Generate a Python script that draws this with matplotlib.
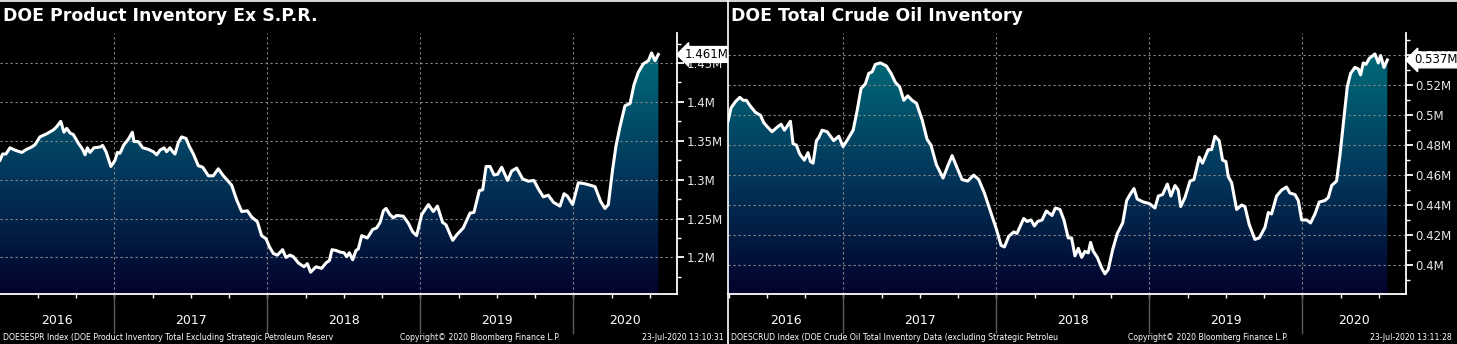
import numpy as np
import matplotlib
matplotlib.use("Agg")
import matplotlib.pyplot as plt
from matplotlib.colors import LinearSegmentedColormap
from matplotlib.patches import Polygon
from matplotlib.transforms import blended_transform_factory
from matplotlib.ticker import FuncFormatter, MultipleLocator

# DOE product inventory ex SPR (millions of barrels), time in decimal years
t_prod = [2016.253, 2016.270, 2016.292, 2016.318, 2016.351, 2016.395, 2016.427, 2016.460,
          2016.482, 2016.514, 2016.558, 2016.602, 2016.623, 2016.650, 2016.671, 2016.689,
          2016.711, 2016.732, 2016.765, 2016.793, 2016.809, 2016.824, 2016.841, 2016.867,
          2016.907, 2016.924, 2016.946, 2016.978, 2017.005, 2017.020, 2017.037, 2017.063,
          2017.092, 2017.118, 2017.129, 2017.157, 2017.186, 2017.222, 2017.255, 2017.277,
          2017.299, 2017.325, 2017.342, 2017.364, 2017.382, 2017.397, 2017.419, 2017.440,
          2017.469, 2017.490, 2017.517, 2017.549, 2017.578, 2017.615, 2017.647, 2017.680,
          2017.713, 2017.767, 2017.800, 2017.833, 2017.870, 2017.898, 2017.935, 2017.963,
          2017.992, 2018.013, 2018.040, 2018.066, 2018.100, 2018.122, 2018.148, 2018.170,
          2018.203, 2018.240, 2018.262, 2018.283, 2018.318, 2018.355, 2018.384, 2018.406,
          2018.423, 2018.449, 2018.475, 2018.502, 2018.519, 2018.536, 2018.558, 2018.580,
          2018.595, 2018.617, 2018.654, 2018.689, 2018.715, 2018.737, 2018.759, 2018.776,
          2018.802, 2018.824, 2018.846, 2018.889, 2018.922, 2018.950, 2018.976, 2019.009,
          2019.053, 2019.085, 2019.112, 2019.146, 2019.168, 2019.212, 2019.238, 2019.281,
          2019.325, 2019.351, 2019.386, 2019.408, 2019.430, 2019.456, 2019.482, 2019.506,
          2019.532, 2019.571, 2019.597, 2019.630, 2019.669, 2019.706, 2019.743, 2019.772,
          2019.804, 2019.837, 2019.870, 2019.913, 2019.940, 2019.961, 2019.996, 2020.033,
          2020.070, 2020.109, 2020.142, 2020.179, 2020.207, 2020.229, 2020.257, 2020.279,
          2020.305, 2020.338, 2020.371, 2020.397, 2020.425, 2020.458, 2020.491, 2020.512,
          2020.534, 2020.556]
prod = [1.325, 1.333, 1.333, 1.341, 1.338, 1.335, 1.339, 1.342,
        1.345, 1.355, 1.359, 1.364, 1.368, 1.375, 1.361, 1.366,
        1.360, 1.358, 1.347, 1.339, 1.332, 1.341, 1.335, 1.341,
        1.342, 1.344, 1.336, 1.317, 1.325, 1.335, 1.334, 1.345,
        1.352, 1.361, 1.349, 1.349, 1.341, 1.339, 1.336, 1.332,
        1.338, 1.341, 1.336, 1.341, 1.336, 1.333, 1.348, 1.355,
        1.353, 1.343, 1.333, 1.318, 1.316, 1.305, 1.305, 1.314,
        1.305, 1.293, 1.274, 1.259, 1.260, 1.252, 1.246, 1.228,
        1.224, 1.214, 1.205, 1.203, 1.210, 1.200, 1.203, 1.201,
        1.193, 1.188, 1.192, 1.181, 1.188, 1.186, 1.193, 1.196,
        1.210, 1.209, 1.207, 1.206, 1.201, 1.206, 1.197, 1.209,
        1.211, 1.228, 1.225, 1.236, 1.238, 1.245, 1.260, 1.263,
        1.255, 1.251, 1.254, 1.253, 1.244, 1.233, 1.228, 1.255,
        1.268, 1.259, 1.266, 1.245, 1.242, 1.222, 1.229, 1.238,
        1.257, 1.258, 1.286, 1.287, 1.317, 1.317, 1.306, 1.307,
        1.316, 1.299, 1.311, 1.315, 1.301, 1.298, 1.299, 1.288,
        1.278, 1.280, 1.271, 1.266, 1.282, 1.279, 1.268, 1.296,
        1.295, 1.293, 1.291, 1.272, 1.263, 1.268, 1.313, 1.343,
        1.368, 1.395, 1.398, 1.422, 1.438, 1.449, 1.453, 1.463,
        1.453, 1.461]

# DOE total crude oil inventory ex SPR (millions of barrels)
t_crude = [2016.240, 2016.251, 2016.266, 2016.294, 2016.323, 2016.345, 2016.366, 2016.393,
           2016.425, 2016.458, 2016.480, 2016.506, 2016.534, 2016.567, 2016.593, 2016.615,
           2016.654, 2016.671, 2016.693, 2016.715, 2016.745, 2016.769, 2016.785, 2016.802,
           2016.824, 2016.839, 2016.861, 2016.894, 2016.937, 2016.970, 2016.998, 2017.029,
           2017.064, 2017.090, 2017.116, 2017.144, 2017.166, 2017.188, 2017.209, 2017.242,
           2017.281, 2017.312, 2017.340, 2017.368, 2017.395, 2017.421, 2017.449, 2017.478,
           2017.515, 2017.547, 2017.573, 2017.608, 2017.652, 2017.682, 2017.711, 2017.743,
           2017.776, 2017.813, 2017.852, 2017.885, 2017.922, 2017.961, 2018.000, 2018.031,
           2018.053, 2018.081, 2018.114, 2018.135, 2018.179, 2018.201, 2018.227, 2018.249,
           2018.270, 2018.299, 2018.327, 2018.364, 2018.386, 2018.416, 2018.442, 2018.470,
           2018.492, 2018.514, 2018.536, 2018.558, 2018.579, 2018.601, 2018.616, 2018.634,
           2018.660, 2018.688, 2018.710, 2018.732, 2018.760, 2018.791, 2018.826, 2018.852,
           2018.874, 2018.900, 2018.921, 2018.961, 2019.000, 2019.037, 2019.059, 2019.087,
           2019.118, 2019.141, 2019.168, 2019.189, 2019.205, 2019.233, 2019.266, 2019.292,
           2019.327, 2019.348, 2019.385, 2019.407, 2019.429, 2019.457, 2019.479, 2019.501,
           2019.516, 2019.538, 2019.571, 2019.603, 2019.625, 2019.653, 2019.690, 2019.719,
           2019.756, 2019.778, 2019.799, 2019.832, 2019.865, 2019.897, 2019.919, 2019.952,
           2019.974, 2019.996, 2020.028, 2020.054, 2020.083, 2020.111, 2020.148, 2020.170,
           2020.192, 2020.224, 2020.246, 2020.268, 2020.294, 2020.316, 2020.344, 2020.366,
           2020.381, 2020.399, 2020.416, 2020.438, 2020.475, 2020.497, 2020.512, 2020.534,
           2020.556]
crude = [0.494, 0.498, 0.505, 0.509, 0.512, 0.510, 0.510, 0.506,
         0.502, 0.500, 0.495, 0.492, 0.489, 0.492, 0.494, 0.490,
         0.496, 0.481, 0.480, 0.474, 0.470, 0.475, 0.469, 0.468,
         0.483, 0.485, 0.490, 0.489, 0.483, 0.486, 0.479, 0.484,
         0.490, 0.503, 0.518, 0.521, 0.528, 0.529, 0.534, 0.535,
         0.533, 0.528, 0.522, 0.519, 0.510, 0.513, 0.510, 0.508,
         0.497, 0.484, 0.480, 0.467, 0.458, 0.466, 0.473, 0.465,
         0.457, 0.456, 0.460, 0.457, 0.448, 0.436, 0.424, 0.413,
         0.412, 0.419, 0.422, 0.421, 0.431, 0.429, 0.430, 0.426,
         0.429, 0.430, 0.436, 0.433, 0.438, 0.437, 0.430, 0.418,
         0.418, 0.406, 0.411, 0.405, 0.409, 0.408, 0.415, 0.409,
         0.405, 0.398, 0.394, 0.397, 0.410, 0.421, 0.428, 0.443,
         0.447, 0.451, 0.444, 0.442, 0.441, 0.438, 0.446, 0.447,
         0.454, 0.446, 0.453, 0.450, 0.439, 0.445, 0.456, 0.457,
         0.472, 0.468, 0.477, 0.477, 0.486, 0.483, 0.470, 0.469,
         0.459, 0.455, 0.437, 0.440, 0.439, 0.427, 0.417, 0.418,
         0.425, 0.435, 0.434, 0.446, 0.450, 0.452, 0.448, 0.447,
         0.443, 0.430, 0.430, 0.428, 0.434, 0.442, 0.443, 0.445,
         0.453, 0.456, 0.473, 0.494, 0.519, 0.528, 0.532, 0.531,
         0.527, 0.535, 0.534, 0.538, 0.541, 0.535, 0.540, 0.532,
         0.537]

years = [2016, 2017, 2018, 2019, 2020]

titles = ["DOE Product Inventory Ex S.P.R.", "DOE Total Crude Oil Inventory"]
footers = ["DOESESPR Index (DOE Product Inventory Total Excluding Strategic Petroleum Reserv",
           "DOESCRUD Index (DOE Crude Oil Total Inventory Data (excluding Strategic Petroleu"]
stamps = ["23-Jul-2020 13:10:31", "23-Jul-2020 13:11:28"]
copyright_txt = "Copyright\u00a9 2020 Bloomberg Finance L.P."

W, H = 1457, 344
fig = plt.figure(figsize=(W / 100, H / 100), dpi=100, facecolor="black")

cmap = LinearSegmentedColormap.from_list(
    "bbg", [(0.0, "#02022c"), (0.45, "#03365a"), (1.0, "#00737e")])

small = dict(color="white", fontsize=5.6, family="DejaVu Sans", va="center")


def panel(x0, x1, t, v, xlim, ylim, ystep, fmt, title, footer, stamp, lastlab):
    ax = fig.add_axes([x0 / W, (H - 294) / H, (x1 - x0) / W, (294 - 33) / H])
    ax.set_facecolor("black")
    ax.set_xlim(*xlim)
    ax.set_ylim(*ylim)

    # gradient fill under the curve
    grad = np.linspace(0, 1, 256).reshape(-1, 1)
    im = ax.imshow(grad, extent=(xlim[0], xlim[1], ylim[0], ylim[1]), origin="lower",
                   aspect="auto", cmap=cmap, zorder=1)
    verts = [(t[0], ylim[0])] + list(zip(t, v)) + [(t[-1], ylim[0])]
    poly = Polygon(verts, closed=True, transform=ax.transData, fc="none", ec="none")
    ax.add_patch(poly)
    im.set_clip_path(poly)
    ax.plot(t, v, color="white", lw=2.2, zorder=4, solid_joinstyle="round")

    # grid
    for y in np.arange(np.ceil(ylim[0] / ystep) * ystep, ylim[1], ystep):
        ax.axhline(y, color="#8a8a8a", lw=0.8, ls=(0, (2, 2.5)), zorder=2)
    for yr in years[1:]:
        ax.axvline(yr, color="#8a8a8a", lw=0.8, ls=(0, (2, 2.5)), zorder=2)

    for s in ["left", "top"]:
        ax.spines[s].set_visible(False)
    for s in ["right", "bottom"]:
        ax.spines[s].set_color("white")
        ax.spines[s].set_linewidth(1.3)
        ax.spines[s].set_zorder(5)

    ax.yaxis.tick_right()
    ax.yaxis.set_major_locator(MultipleLocator(ystep))
    ax.yaxis.set_minor_locator(MultipleLocator(ystep / 2))
    ax.yaxis.set_major_formatter(FuncFormatter(fmt))
    ax.tick_params(axis="y", which="major", colors="white", length=5, width=1.3,
                   pad=2, labelsize=8.5, labelcolor="#e8e8e8")
    ax.tick_params(axis="y", which="minor", colors="white", length=3, width=1)

    ax.xaxis.set_major_locator(MultipleLocator(0.25))
    ax.xaxis.set_major_formatter(FuncFormatter(lambda x, p: ""))
    ax.tick_params(axis="x", which="major", colors="white", length=3, width=1, pad=0)

    trans = blended_transform_factory(ax.transData, ax.transAxes)
    for yr in years[1:]:
        ax.plot([yr, yr], [0, -0.15], color="#5a5a5a", lw=1, transform=trans,
                clip_on=False, zorder=3)
    for yr in years:
        lo = max(yr, xlim[0])
        hi = min(yr + 1, xlim[1])
        ax.text((lo + hi) / 2, -0.1, str(yr), transform=trans, color="white",
                fontsize=9, ha="center", va="center")

    # current value tag
    tr2 = blended_transform_factory(ax.transAxes, ax.transData)
    ax.text(1.012, v[-1], lastlab, transform=tr2, color="black", fontsize=8.5,
            ha="left", va="center", zorder=10, clip_on=False,
            bbox=dict(boxstyle="larrow,pad=0.12", fc="white", ec="white"))

    fig.text((x0 + 3) / W, 1 - 16 / H, title, color="white", fontsize=12.5,
             fontweight="bold", ha="left", va="center")
    fig.text((x0 + 3) / W, 1 - 337 / H, footer, ha="left", **small)
    fig.text((x0 + 480) / W, 1 - 337 / H, copyright_txt, ha="center", **small)
    fig.text((x0 + 724) / W, 1 - 337 / H, stamp, ha="right", **small)
    return ax


def fmt_prod(y, p):
    return f"{y:g}M"


def fmt_crude(y, p):
    return f"{y:.2f}".rstrip("0") + "M"


panel(0, 677, t_prod, prod, (2016.253, 2020.678), (1.153, 1.4886), 0.05, fmt_prod,
      titles[0], footers[0], stamps[0], "1.461M")
panel(728, 1406, t_crude, crude, (2016.246, 2020.678), (0.3805, 0.555), 0.02, fmt_crude,
      titles[1], footers[1], stamps[1], "0.537M")

# panel frame lines
fig.add_artist(plt.Line2D([0, 1], [1 - 0.5 / H, 1 - 0.5 / H], color="white", lw=1.2,
                          transform=fig.transFigure))
fig.add_artist(plt.Line2D([727.5 / W, 727.5 / W], [0, 1], color="white", lw=1.2,
                          transform=fig.transFigure))

fig.savefig("out.png", dpi=100, facecolor="black")
